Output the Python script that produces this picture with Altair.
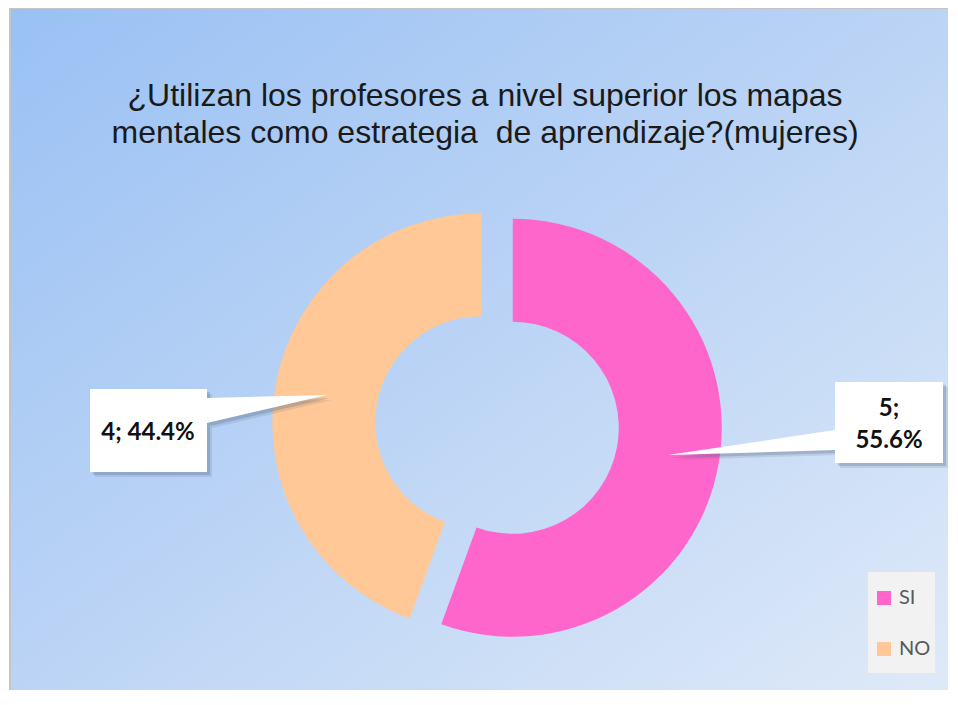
import math
import altair as alt
import pandas as pd

# ---- data ----
CATEGORIES = ["SI", "NO"]
VALUES = [5, 4]
COLORS = ["#FF66CC", "#FFC896"]
TITLE_LINES = [
    "¿Utilizan los profesores a nivel superior los mapas",
    "mentales como estrategia \u00a0de aprendizaje?(mujeres)",
]

# ---- layout (plot coordinates) ----
W, H = 940, 682
CX, CY = 489, 417
R_OUT, R_IN = 209, 106
EXPLODE = 16

df = pd.DataFrame({"cat": CATEGORIES, "value": VALUES, "order": list(range(len(VALUES)))})

base = (
    alt.Chart(df)
    .transform_joinaggregate(total="sum(value)")
    .transform_window(cum="sum(value)", sort=[alt.SortField("order")], frame=[None, 0])
    .transform_calculate(start="datum.cum - datum.value")
    .transform_calculate(mid="(datum.cum - datum.value / 2) / datum.total * 2 * PI")
    .transform_calculate(pct="datum.value / datum.total")
    .transform_calculate(cx=f"{CX} + {EXPLODE} * sin(datum.mid)")
    .transform_calculate(cy=f"{CY} - {EXPLODE} * cos(datum.mid)")
)

one = pd.DataFrame({"a": [0]})

bg = alt.Chart(one).mark_rect(
    fill=alt.LinearGradient(
        gradient="linear",
        stops=[
            alt.GradientStop(color="#9ac1f4", offset=0),
            alt.GradientStop(color="#b8d2f5", offset=0.45),
            alt.GradientStop(color="#dfeaf8", offset=1),
        ],
        x1=0, y1=0, x2=1, y2=1,
    ),
    stroke="#c4c4c4",
    strokeWidth=2,
).encode(x=alt.value(2), x2=alt.value(W + 6), y=alt.value(0), y2=alt.value(H + 6))

legend_box = alt.Chart(one).mark_rect(fill="#f2f2f2").encode(
    x=alt.value(860), x2=alt.value(927), y=alt.value(564), y2=alt.value(665)
)

arcs = base.mark_arc(innerRadius=R_IN, outerRadius=R_OUT).encode(
    theta=alt.Theta("start:Q", scale=alt.Scale(domain=[0, sum(VALUES)], range=[0, 2 * math.pi])),
    theta2="cum:Q",
    x=alt.X("cx:Q", scale=None),
    y=alt.Y("cy:Q", scale=None),
    color=alt.Color(
        "cat:N",
        sort=CATEGORIES,
        scale=alt.Scale(domain=CATEGORIES, range=COLORS),
        legend=alt.Legend(
            title=None,
            orient="none",
            legendX=866,
            legendY=580,
            direction="vertical",
            symbolType="square",
            symbolSize=196,
            symbolStrokeWidth=0,
            labelFont="Lato",
            labelFontSize=20,
            labelColor="#595959",
            labelOffset=5,
            rowPadding=31,
            padding=0,
        ),
    ),
)

PATH_SI = "M-54,-40.5 L54,-40.5 L54,40.5 L-54,40.5 L-54,27.5 L-221,32.5 L-54,7.5 Z"
PATH_NO = "M-58.5,-41.5 L58.5,-41.5 L58.5,-32.5 L178.5,-35.5 L58.5,-7.5 L58.5,41.5 L-58.5,41.5 Z"


def callout(cat, path, ax, ay, tx, ty, multiline):
    sub = base.transform_filter(alt.datum.cat == cat)
    layers = []
    for off, op in [(5, 0.15), (3, 0.25)]:
        layers.append(
            sub.mark_point(shape=path, size=4, filled=True, fill="#50607a", opacity=op,
                           strokeWidth=0, xOffset=off, yOffset=off)
            .encode(x=alt.value(ax), y=alt.value(ay))
        )
    layers.append(
        sub.mark_point(shape=path, size=4, filled=True, fill="white", opacity=1, strokeWidth=0)
        .encode(x=alt.value(ax), y=alt.value(ay))
    )
    if multiline:
        lab = sub.transform_calculate(label="datum.value + ';\\n' + format(datum.pct, '.1%')")
    else:
        lab = sub.transform_calculate(label="datum.value + '; ' + format(datum.pct, '.1%')")
    layers.append(
        lab.mark_text(font="Lato", fontWeight="bold", fontSize=24, color="#111111",
                      align="center", baseline="middle", lineBreak="\n", lineHeight=32)
        .encode(x=alt.value(tx), y=alt.value(ty), text="label:N")
    )
    return layers


title = alt.Chart(one).mark_text(
    text=TITLE_LINES,
    font="Liberation Sans",
    fontSize=32,
    lineHeight=37,
    color="#1a1a1a",
    align="center",
    baseline="alphabetic",
).encode(x=alt.value(477), y=alt.value(98))

layers = [bg, legend_box, arcs]
layers += callout("SI", PATH_SI, 881, 414.5, 881, 401, True)
layers += callout("NO", PATH_NO, 140.5, 422.5, 140, 425, False)
layers.append(title)

chart = (
    alt.layer(*layers)
    .properties(width=W, height=H, padding=0, autosize=alt.AutoSizeParams(type="none"))
    .configure_view(stroke=None)
)

chart.save("out.html", embed_options={"renderer": "svg", "actions": False})
